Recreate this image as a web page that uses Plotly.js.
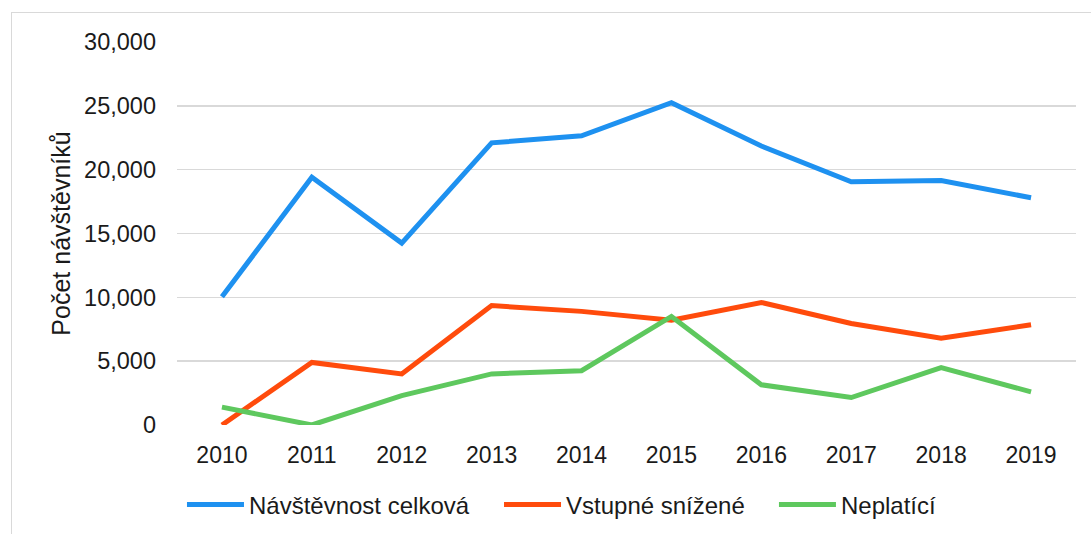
<!DOCTYPE html>
<html>
<head>
<meta charset="utf-8">
<script src="https://cdn.plot.ly/plotly-3.0.1.min.js"></script>
<style>
  html, body { margin: 0; padding: 0; background: #ffffff; overflow: hidden; }
  #chart { width: 1091px; height: 534px; position: absolute; left: 0; top: 0; }
  #frame { position: absolute; left: 11px; top: 12px; width: 1100px; height: 560px;
           border: 1px solid #d9d9d9; pointer-events: none; box-sizing: border-box; }
</style>
</head>
<body>
<div id="chart"></div>
<div id="frame"></div>
<script>
const years = ["2010","2011","2012","2013","2014","2015","2016","2017","2018","2019"];
const celkova = [10050, 19400, 14250, 22100, 22650, 25250, 21850, 19050, 19150, 17800];
const snizene = [0, 4900, 4000, 9350, 8900, 8200, 9600, 7950, 6800, 7850];
const neplatici = [1400, 0, 2300, 4000, 4250, 8500, 3150, 2150, 4500, 2600];
const seriesNames = ["Návštěvnost celková", "Vstupné snížené", "Neplatící"];
const yTitle = "Počet návštěvníků";
const seriesColors = ["#1E91F0", "#FF4B0C", "#5EC85E"];

const fontFamily = "Liberation Sans, Arial, sans-serif";
const textColor = "#1a1a1a";
const legendIds = ["legend", "legend2", "legend3"];
const legendX = [0.1668, 0.4574, 0.7094];

const data = [celkova, snizene, neplatici].map((vals, i) => ({
  type: "scatter",
  mode: "lines",
  x: years,
  y: vals,
  name: seriesNames[i],
  legend: legendIds[i],
  line: { color: seriesColors[i], width: 5 },
  hoverinfo: "x+y+name"
}));

function legendBox(x) {
  return {
    orientation: "h",
    xref: "container",
    yref: "container",
    x: x,
    xanchor: "left",
    y: 0.0543,
    yanchor: "middle",
    itemwidth: 57,
    font: { family: fontFamily, size: 24, color: textColor },
    bgcolor: "rgba(0,0,0,0)"
  };
}

const layout = {
  width: 1091,
  height: 534,
  paper_bgcolor: "rgba(0,0,0,0)",
  plot_bgcolor: "rgba(0,0,0,0)",
  margin: { l: 177, r: 15, t: 42, b: 109, pad: 0 },
  font: { family: fontFamily, size: 22, color: textColor },
  showlegend: true,
  legend: legendBox(legendX[0]),
  legend2: legendBox(legendX[1]),
  legend3: legendBox(legendX[2]),
  xaxis: {
    type: "category",
    range: [-0.5, 9.5],
    showgrid: false,
    zeroline: false,
    showline: false,
    ticks: "",
    ticklabelstandoff: 14,
    tickfont: { family: fontFamily, size: 23, color: textColor }
  },
  yaxis: {
    range: [0, 30000],
    dtick: 5000,
    tick0: 0,
    tickformat: ",d",
    showgrid: true,
    gridcolor: "#d9d9d9",
    gridwidth: 1.5,
    zeroline: false,
    showline: false,
    ticks: "",
    ticklabelstandoff: 20,
    tickfont: { family: fontFamily, size: 23.5, color: textColor },
    title: { text: yTitle, font: { family: fontFamily, size: 25, color: textColor }, standoff: 6 }
  }
};

Plotly.newPlot("chart", data, layout, { staticPlot: true, displayModeBar: false });
</script>
</body>
</html>
